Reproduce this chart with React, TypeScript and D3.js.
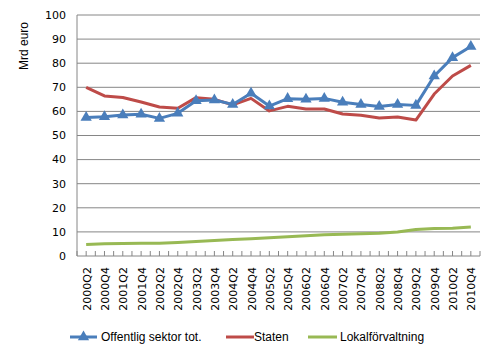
import React from "react";
import * as d3 from "d3";

const categories = [
  "2000Q2","2000Q4","2001Q2","2001Q4","2002Q2","2002Q4","2003Q2","2003Q4",
  "2004Q2","2004Q4","2005Q2","2005Q4","2006Q2","2006Q4","2007Q2","2007Q4",
  "2008Q2","2008Q4","2009Q2","2009Q4","2010Q2","2010Q4",
];
const offentlig = [57.5,57.8,58.5,58.8,57.1,59.2,64.4,64.7,62.9,67.5,62.2,65.3,65.0,65.4,63.8,62.9,62.0,62.9,62.5,74.7,82.3,86.9];
const staten = [70.0,66.4,65.8,63.9,61.8,61.3,65.7,65.0,62.7,65.4,60.2,62.1,61.0,61.0,58.9,58.4,57.3,57.7,56.4,67.2,74.7,79.1];
const lokal = [4.8,5.1,5.2,5.3,5.3,5.6,6.0,6.4,6.8,7.2,7.6,8.0,8.4,8.8,9.0,9.2,9.4,10.0,11.0,11.4,11.5,12.0];
const yTicks = [0,10,20,30,40,50,60,70,80,90,100];

const series = [
  { name: "Offentlig sektor tot.", values: offentlig, color: "#4a7ebb", marker: true },
  { name: "Staten", values: staten, color: "#be4b48", marker: false },
  { name: "Lokalförvaltning", values: lokal, color: "#98b954", marker: false },
];

export default function App() {
  const W = 495, H = 359;
  const left = 77, right = 480, top = 15, bottom = 256;
  const x = d3.scaleBand<string>().domain(categories).range([left, right]).padding(0);
  const y = d3.scaleLinear().domain([0, 100]).range([bottom, top]);
  const cx = (c: string) => (x(c) as number) + x.bandwidth() / 2;
  const line = (vals: number[]) =>
    d3.line<number>().x((_, i) => cx(categories[i])).y((v) => y(v))(vals) as string;
  const tri = d3.symbol().type(d3.symbolTriangle).size(55)() as string;

  const tickXs: number[] = [];
  categories.forEach((c) => {
    tickXs.push(x(c) as number);
    tickXs.push(cx(c));
  });
  tickXs.push(right);

  const legendItems = [
    { s: series[0], x1: 70, x2: 97, tx: 101 },
    { s: series[1], x1: 226, x2: 254, tx: 254 },
    { s: series[2], x1: 308, x2: 337, tx: 340 },
  ];
  const ly = 337;

  return (
    <svg width={W} height={H} style={{ position: "absolute", left: 0, top: 0, background: "#fff" }}>
      <rect width={W} height={H} fill="#fff" />
      {yTicks.map((t) => (
        <g key={t}>
          {t > 0 && (
            <line x1={left} x2={right} y1={y(t)} y2={y(t)} stroke="#868686" strokeWidth={1} />
          )}
          <text x={66} y={y(t)} dy="0.35em" textAnchor="end" fontFamily="DejaVu Sans" fontSize={11} fill="#000">
            {t}
          </text>
        </g>
      ))}
      <line x1={left} x2={left} y1={top} y2={bottom} stroke="#868686" strokeWidth={1} />
      <line x1={left} x2={right} y1={bottom} y2={bottom} stroke="#868686" strokeWidth={1} />
      {tickXs.map((tx, i) => (
        <line key={i} x1={tx} x2={tx} y1={bottom} y2={bottom - 5} stroke="#868686" strokeWidth={1} />
      ))}
      {categories.map((c) => (
        <text
          key={c}
          transform={`translate(${cx(c) + 1},267) rotate(-90)`}
          textAnchor="end"
          dominantBaseline="central"
          fontFamily="DejaVu Sans"
          fontSize={11}
          fill="#000"
        >
          {c}
        </text>
      ))}
      <text
        transform={`translate(24,46) rotate(-90)`}
        textAnchor="middle"
        dominantBaseline="central"
        fontFamily="Liberation Sans"
        fontSize={12}
        fill="#000"
      >
        Mrd euro
      </text>
      {[series[2], series[1], series[0]].map((s) => (
        <g key={s.name}>
          <path d={line(s.values)} fill="none" stroke={s.color} strokeWidth={3} strokeLinejoin="round" />
          {s.marker &&
            s.values.map((v, i) => (
              <path key={i} d={tri} transform={`translate(${cx(categories[i])},${y(v)})`} fill={s.color} />
            ))}
        </g>
      ))}
      {legendItems.map(({ s, x1, x2, tx }) => (
        <g key={s.name}>
          <line x1={x1} x2={x2} y1={ly} y2={ly} stroke={s.color} strokeWidth={3} />
          {s.marker && <path d={tri} transform={`translate(${(x1 + x2) / 2},${ly})`} fill={s.color} />}
          <text x={tx} y={ly} dy="0.35em" fontFamily="Liberation Sans" fontSize={12} fill="#000">
            {s.name}
          </text>
        </g>
      ))}
    </svg>
  );
}
